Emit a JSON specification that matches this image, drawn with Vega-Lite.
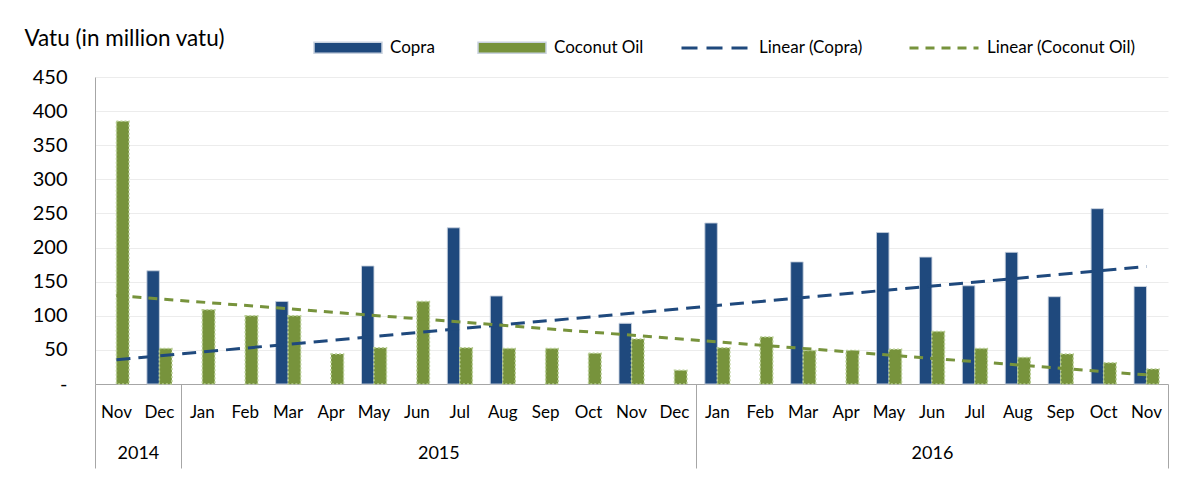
{
  "$schema": "https://vega.github.io/schema/vega-lite/v6.json",
  "width": 1073,
  "height": 307,
  "autosize": {"type": "none"},
  "padding": {"left": 95, "top": 77, "right": 20, "bottom": 102},
  "background": "white",
  "config": {
    "view": {"stroke": null},
    "font": "Lato",
    "axis": {"labelFont": "Lato", "titleFont": "Lato", "labelColor": "#000000", "titleColor": "#000000"},
    "legend": {"labelFont": "Lato", "labelFontSize": 17, "labelFontWeight": "normal", "labelColor": "#000000", "columnPadding": 40, "labelOffset": 7, "padding": 0, "titlePadding": 0}
  },
  "data": {
    "values": [
      {"i": 1, "period": "Nov 2014", "Copra": 0, "Coconut Oil": 385},
      {"i": 2, "period": "Dec 2014", "Copra": 166, "Coconut Oil": 52},
      {"i": 3, "period": "Jan 2015", "Copra": 0, "Coconut Oil": 109},
      {"i": 4, "period": "Feb 2015", "Copra": 0, "Coconut Oil": 100},
      {"i": 5, "period": "Mar 2015", "Copra": 121, "Coconut Oil": 100},
      {"i": 6, "period": "Apr 2015", "Copra": 0, "Coconut Oil": 44},
      {"i": 7, "period": "May 2015", "Copra": 173, "Coconut Oil": 53},
      {"i": 8, "period": "Jun 2015", "Copra": 0, "Coconut Oil": 121},
      {"i": 9, "period": "Jul 2015", "Copra": 229, "Coconut Oil": 53},
      {"i": 10, "period": "Aug 2015", "Copra": 129, "Coconut Oil": 52},
      {"i": 11, "period": "Sep 2015", "Copra": 0, "Coconut Oil": 52},
      {"i": 12, "period": "Oct 2015", "Copra": 0, "Coconut Oil": 45},
      {"i": 13, "period": "Nov 2015", "Copra": 89, "Coconut Oil": 66},
      {"i": 14, "period": "Dec 2015", "Copra": 0, "Coconut Oil": 20},
      {"i": 15, "period": "Jan 2016", "Copra": 236, "Coconut Oil": 53},
      {"i": 16, "period": "Feb 2016", "Copra": 0, "Coconut Oil": 69},
      {"i": 17, "period": "Mar 2016", "Copra": 179, "Coconut Oil": 49},
      {"i": 18, "period": "Apr 2016", "Copra": 0, "Coconut Oil": 49},
      {"i": 19, "period": "May 2016", "Copra": 222, "Coconut Oil": 51},
      {"i": 20, "period": "Jun 2016", "Copra": 186, "Coconut Oil": 77},
      {"i": 21, "period": "Jul 2016", "Copra": 144, "Coconut Oil": 52},
      {"i": 22, "period": "Aug 2016", "Copra": 193, "Coconut Oil": 39},
      {"i": 23, "period": "Sep 2016", "Copra": 128, "Coconut Oil": 44},
      {"i": 24, "period": "Oct 2016", "Copra": 257, "Coconut Oil": 31},
      {"i": 25, "period": "Nov 2016", "Copra": 143, "Coconut Oil": 22}
    ]
  },
  "resolve": {"scale": {"x": "independent"}, "axis": {"x": "independent"}},
  "layer": [
    {
      "transform": [
        {"fold": ["Copra", "Coconut Oil"], "as": ["series", "value"]},
        {"filter": "datum.value > 0"}
      ],
      "mark": {"type": "bar"},
      "encoding": {
        "x": {
          "field": "period", "type": "nominal",
          "sort": {"field": "i", "op": "min"},
          "scale": {"paddingInner": 0, "paddingOuter": 0},
          "axis": {"orient": "bottom", "title": null, "labelExpr": "split(datum.label, ' ')[0]", "labelAngle": 0, "ticks": false, "domain": true, "domainColor": "#a6a6a6", "domainWidth": 1, "labelPadding": 28, "labelBaseline": "middle", "labelFontSize": 17, "labelOverlap": false, "grid": false}
        },
        "xOffset": {"field": "series", "type": "nominal", "sort": ["Copra", "Coconut Oil"], "scale": {"paddingInner": 0, "paddingOuter": 0.717}},
        "y": {
          "field": "value", "type": "quantitative",
          "scale": {"domain": [0, 450], "nice": false},
          "axis": {"orient": "left", "title": "Vatu (in million vatu)", "titleAngle": 0, "titleAlign": "left", "titleBaseline": "alphabetic", "titleX": -71, "titleY": -32, "titleFontSize": 22.5, "titleFontWeight": "normal", "values": [0, 50, 100, 150, 200, 250, 300, 350, 400, 450], "labelExpr": "datum.value === 0 ? '-\u00a0\u00a0\u00a0' : datum.label", "labelFontSize": 20, "labelPadding": 28, "ticks": false, "domain": true, "domainColor": "#a6a6a6", "grid": true, "gridColor": "#ececec", "labelBaseline": "middle"}
        },
        "color": {
          "field": "series", "type": "nominal",
          "scale": {"domain": ["Copra", "Coconut Oil"], "range": ["#1F497D", "#77933C"]},
          "legend": {"title": null, "orient": "none", "direction": "horizontal", "legendX": 218, "legendY": -64.5, "symbolType": "M-1,-0.162H1V0.162H-1Z", "symbolSize": 4624, "symbolOpacity": 1, "labelFontWeight": "normal",
            "encode": {"symbols": {"update": {"stroke": {"signal": "datum.value === 'Coconut Oil' ? '#b7cd92' : '#1F497D'"}, "strokeDash": {"signal": "datum.value === 'Coconut Oil' ? [2,2] : [1,0]"}, "strokeWidth": {"value": 1.5}}}}}
        },
        "stroke": {"condition": {"test": "datum.series === 'Coconut Oil'", "value": "#b7cd92"}, "value": "#c9d2df"},
        "strokeDash": {"condition": {"test": "datum.series === 'Coconut Oil'", "value": [2, 2]}, "value": [1, 0]},
        "strokeWidth": {"condition": {"test": "datum.series === 'Coconut Oil'", "value": 1.5}, "value": 1}
      }
    },
    {
      "transform": [
        {"fold": ["Copra", "Coconut Oil"], "as": ["trend", "amount"]},
        {"regression": "amount", "on": "i", "groupby": ["trend"], "extent": [1, 25]},
        {"filter": "datum.trend === 'Copra'"}
      ],
      "mark": {"type": "line", "strokeWidth": 3},
      "encoding": {
        "x": {"field": "i", "type": "quantitative", "scale": {"domain": [0.5, 25.5], "nice": false, "zero": false},
          "axis": {"orient": "bottom", "title": null, "values": [1.5, 8.5, 20], "labelExpr": "datum.value < 2 ? '2014' : datum.value < 10 ? '2015' : '2016'", "domain": false, "ticks": false, "grid": false, "labelPadding": 69, "labelBaseline": "middle", "labelFontSize": 18, "labelFlush": false, "labelOverlap": false}},
        "y": {"field": "amount", "type": "quantitative", "scale": {"domain": [0, 450], "nice": false},
          "axis": {"orient": "left", "title": "Vatu (in million vatu)", "titleAngle": 0, "titleAlign": "left", "titleBaseline": "alphabetic", "titleX": -71, "titleY": -32, "titleFontSize": 22.5, "titleFontWeight": "normal", "values": [0, 50, 100, 150, 200, 250, 300, 350, 400, 450], "labelExpr": "datum.value === 0 ? '-\u00a0\u00a0\u00a0' : datum.label", "labelFontSize": 20, "labelPadding": 28, "ticks": false, "domain": true, "domainColor": "#a6a6a6", "grid": true, "gridColor": "#ececec", "labelBaseline": "middle"}},
        "stroke": {"field": "trend", "type": "nominal", "sort": ["Copra", "Coconut Oil"], "scale": {"range": ["#1F497D", "#77933C"]},
          "legend": {"title": null, "orient": "none", "direction": "horizontal", "legendX": 585, "legendY": -65, "symbolSize": 4761, "symbolStrokeWidth": 3, "symbolType": "stroke", "labelFontWeight": "normal", "labelExpr": "'Linear (' + datum.label + ')'",
            "encode": {"symbols": {"update": {"strokeDash": {"signal": "datum.value === 'Copra' ? [16,9] : [9,7]"}}}}}},
        "strokeDash": {"field": "trend", "type": "nominal", "sort": ["Copra", "Coconut Oil"], "scale": {"range": [[14, 8], [9, 7]]}, "legend": null}
      }
    },
    {
      "transform": [
        {"fold": ["Copra", "Coconut Oil"], "as": ["trend", "amount"]},
        {"regression": "amount", "on": "i", "groupby": ["trend"], "extent": [1, 25]},
        {"filter": "datum.trend === 'Coconut Oil'"}
      ],
      "mark": {"type": "line", "strokeWidth": 3},
      "encoding": {
        "x": {"field": "i", "type": "quantitative", "scale": {"domain": [0.5, 25.5], "nice": false, "zero": false},
          "axis": {"orient": "bottom", "title": null, "values": [0.5, 2.5, 14.5, 25.5], "labels": false, "domain": false, "ticks": true, "tickSize": 84, "tickColor": "#a6a6a6", "tickWidth": 1, "grid": false}},
        "y": {"field": "amount", "type": "quantitative", "scale": {"domain": [0, 450], "nice": false},
          "axis": {"orient": "left", "title": "Vatu (in million vatu)", "titleAngle": 0, "titleAlign": "left", "titleBaseline": "alphabetic", "titleX": -71, "titleY": -32, "titleFontSize": 22.5, "titleFontWeight": "normal", "values": [0, 50, 100, 150, 200, 250, 300, 350, 400, 450], "labelExpr": "datum.value === 0 ? '-\u00a0\u00a0\u00a0' : datum.label", "labelFontSize": 20, "labelPadding": 28, "ticks": false, "domain": true, "domainColor": "#a6a6a6", "grid": true, "gridColor": "#ececec", "labelBaseline": "middle"}},
        "stroke": {"field": "trend", "type": "nominal", "sort": ["Copra", "Coconut Oil"], "scale": {"range": ["#1F497D", "#77933C"]},
          "legend": {"title": null, "orient": "none", "direction": "horizontal", "legendX": 585, "legendY": -65, "symbolSize": 4761, "symbolStrokeWidth": 3, "symbolType": "stroke", "labelFontWeight": "normal", "labelExpr": "'Linear (' + datum.label + ')'",
            "encode": {"symbols": {"update": {"strokeDash": {"signal": "datum.value === 'Copra' ? [16,9] : [9,7]"}}}}}},
        "strokeDash": {"field": "trend", "type": "nominal", "sort": ["Copra", "Coconut Oil"], "scale": {"range": [[14, 8], [9, 7]]}, "legend": null}
      }
    }
  ]
}
